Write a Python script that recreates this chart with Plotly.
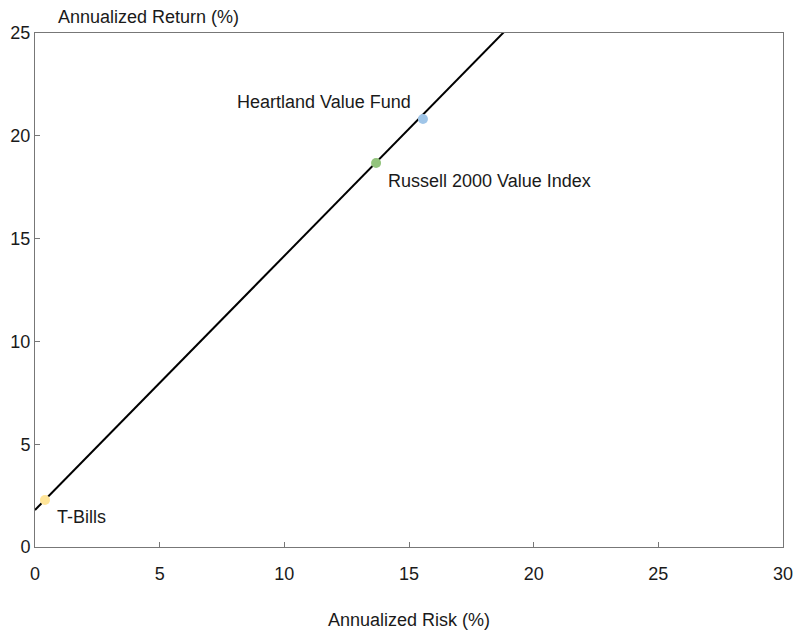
import plotly.graph_objects as go

names = ["Heartland Value Fund", "Russell 2000 Value Index", "T-Bills"]
risk = [15.56, 13.68, 0.4]
ret = [20.82, 18.68, 2.29]
colors = ["#9fc5e8", "#93c47d", "#ffe599"]

line_x = [0, 30]
line_intercept = 1.8
line_slope = 1.236
line_y = [line_intercept + line_slope * x for x in line_x]

xticks = [0, 5, 10, 15, 20, 25, 30]
yticks = [0, 5, 10, 15, 20, 25]

FONT = "Liberation Sans, Arial, sans-serif"
TXT = "#1a1a1a"

fig = go.Figure()
fig.add_trace(go.Scatter(x=line_x, y=line_y, mode="lines",
                         line=dict(color="black", width=2), hoverinfo="skip"))
fig.add_trace(go.Scatter(x=risk, y=ret, mode="markers",
                         marker=dict(color=colors, size=10), hoverinfo="text", text=names))

label_pos = [("right", -10, 17), ("left", 10, -18), ("left", 10, -17)]
for n, x, y, (xa, dx, dy) in zip(names, risk, ret, label_pos):
    fig.add_annotation(x=x, y=y, text=n, showarrow=False, xanchor=xa, yanchor="middle",
                       xshift=dx, yshift=dy, font=dict(size=18, color=TXT))

fig.add_annotation(xref="paper", yref="paper", x=(56 - 35) / 748, y=1.0, yshift=16,
                   xanchor="left", yanchor="middle", text="Annualized Return (%)",
                   showarrow=False, font=dict(size=18, color=TXT))

fig.add_annotation(xref="paper", yref="paper", x=0.5, y=0, yshift=-73,
                   xanchor="center", yanchor="middle", text="Annualized Risk (%)",
                   showarrow=False, font=dict(size=18, color=TXT))

fig.update_layout(
    width=795, height=637,
    margin=dict(l=35, r=12, t=33, b=90, autoexpand=False),
    plot_bgcolor="white", paper_bgcolor="white",
    showlegend=False,
    font=dict(family=FONT, size=18, color=TXT),
    xaxis=dict(range=[0, 30], tickvals=xticks, showgrid=False, zeroline=False,
               showline=True, linecolor="#777", linewidth=1, mirror=True,
               ticks="inside", ticklen=5, tickcolor="#777", automargin=False,
               ticklabelstandoff=10,
               tickfont=dict(size=18, color=TXT)),
    yaxis=dict(range=[0, 25], tickvals=yticks, showgrid=False, zeroline=False,
               showline=True, linecolor="#777", linewidth=1, mirror=True,
               ticks="inside", ticklen=5, tickcolor="#777", automargin=False,
               tickfont=dict(size=18, color=TXT)),
)

fig.write_html("out.html", config={"displayModeBar": False},
               post_script="document.body.style.margin='0';document.body.style.overflow='hidden';")
